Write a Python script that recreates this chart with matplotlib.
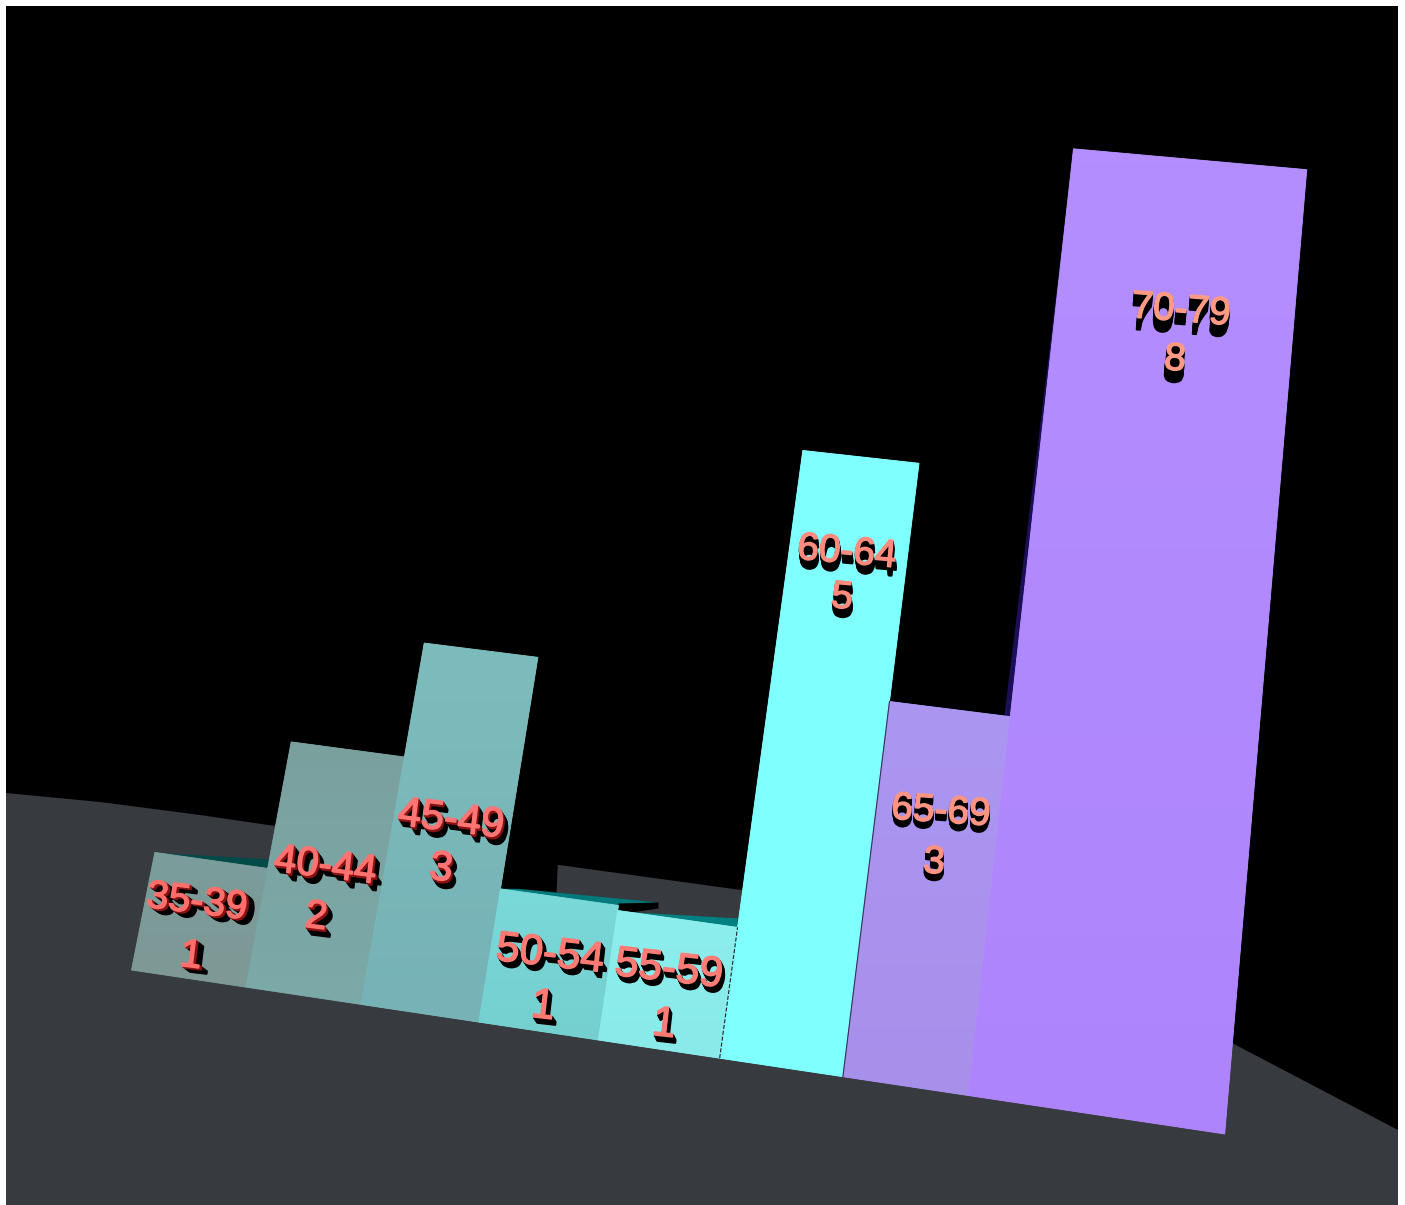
import numpy as np
import matplotlib.pyplot as plt
import matplotlib.patheffects as pe
from matplotlib.colors import LinearSegmentedColormap
from matplotlib.patches import Polygon, Rectangle
from matplotlib.transforms import Transform

age_edges = [35, 40, 45, 50, 55, 60, 65, 70, 80]
age_labels = ['35-39', '40-44', '45-49', '50-54', '55-59', '60-64', '65-69', '70-79']
counts = [1, 2, 3, 1, 1, 5, 3, 8]

bar_top_colors = ['#7a9d9b', '#7aa09e', '#7dbcbc', '#7ad9d9', '#8deeee', '#80ffff', '#ab96f2', '#b48eff']
bar_low_colors = ['#7f9896', '#7aaaa9', '#76b2b6', '#75cfcf', '#8aeaea', '#80ffff', '#a790ea', '#ae84fc']
text_colors = ['#ff6f6c', '#ff7270', '#ff7474', '#ff7a72', '#ff7c76', '#ff8a7e', '#ff9484', '#ff9a85']

# where the labels sit on the picture
range_xy = [(197, 902), (325, 866), (451, 820), (550, 955), (669, 970), (847, 553), (941, 812), (1181, 311)]
value_xy = [(191, 956), (316, 917), (441, 869), (543, 1007), (664, 1025), (842, 598), (934, 863), (1175, 360)]
font_sizes = [28.5, 29, 30, 30.5, 30.5, 28, 28, 28]
rotations = [-7, -7, -7, -6.5, -6.5, -5, -4, -4.5]
shadows = [(8, 6), (6, 8), (5, 8), (4, 6), (3, 6), (1, 9), (0, 7), (-1, 12)]

# top faces for the short bars: shift of back-left and back-right from the front corners
top_faces = {0: ((10, 1), (2, -9), '#004a4a'),
             3: ((18, 0), (40, -3), '#007a7a'),
             4: ((16, 2), (0, -9), '#008080')}

frame = [6, 6, 1392, 1199]
ground_edge = [(6, 793), (100, 802), (200, 815), (275, 826), (741, 890), (1232, 1043), (1398, 1130),
               (1398, 1205), (6, 1205)]

# (age, count) -> picture, fitted on points
plane_data = [(35, 0), (40, 0), (45, 0), (50, 0), (55, 0), (60, 0), (65, 0), (70, 0), (80, 0),
              (35, 1), (40, 2), (45, 3), (60, 5), (65, 5), (65, 3), (70, 3), (70, 8), (80, 8)]
plane_pix = [(133, 970), (247, 988), (362, 1006), (480, 1023), (598, 1040), (721, 1058), (842, 1077),
             (967, 1095), (1225, 1134), (155, 853), (290, 741), (423, 642), (800, 450), (918, 464),
             (888, 702), (1010, 716), (1074, 149), (1310, 168)]

# heights as drawn on the picture, a little off the printed counts
drawn_heights = [0.97, 2.03, 3, 1.07, 1.03, 5.03, 3, 7.97]


def solve_plane(src, dst):
    a = []
    b = []
    for (x, y), (u, v) in zip(src, dst):
        a.append([x, y, 1, 0, 0, 0, -u * x, -u * y])
        a.append([0, 0, 0, x, y, 1, -v * x, -v * y])
        b += [u, v]
    sol = np.linalg.lstsq(np.array(a, float), np.array(b, float), rcond=None)[0]
    return np.append(sol, 1).reshape(3, 3)


class PlaneTransform(Transform):
    input_dims = 2
    output_dims = 2

    def __init__(self, h):
        super().__init__()
        self.h = h

    def transform_non_affine(self, values):
        values = np.asarray(values, float)
        p = np.column_stack([values, np.ones(len(values))]) @ self.h.T
        return p[:, :2] / p[:, 2:]


plane = PlaneTransform(solve_plane(plane_data, plane_pix))

fig = plt.figure(figsize=(14.05, 12.05), dpi=100, facecolor='white')
ax = fig.add_axes([0, 0, 1, 1])
ax.axis('off')
plt.rcParams['font.family'] = ['Liberation Sans', 'DejaVu Sans']


def pix(age, value):
    return plane.transform_non_affine(np.array([[age, value]]))[0]


ax.add_patch(Rectangle(frame[:2], frame[2], frame[3], facecolor='black', edgecolor='none', zorder=0))
ax.add_patch(Polygon(ground_edge, closed=True, facecolor='#373a3f', edgecolor='none', zorder=1))

# black gap behind the 50-54 bar
tl = pix(age_edges[3], drawn_heights[3])
ax.add_patch(Polygon([tl + (-5, -50), tl + (58, -40), tl + (56, 4), tl + (-5, 4)], closed=True,
                     facecolor='black', edgecolor='none', zorder=1.5))

# dark side of the tallest bar
low = pix(age_edges[7], counts[6])
high = pix(age_edges[7], counts[7] * 0.93)
ax.add_patch(Polygon([high, low, low + (-6, 0)], closed=True, facecolor='#1c0e58', edgecolor='none', zorder=1.6))

for i, c in enumerate(drawn_heights):
    left = age_edges[i]
    right = age_edges[i + 1]
    z = 3 + i
    corners = np.array([pix(left, 0), pix(right, 0), pix(right, c), pix(left, c)])
    if i in top_faces:
        sl, sr, col = top_faces[i]
        ax.add_patch(Polygon([corners[3], corners[2], corners[2] + sr, corners[3] + sl], closed=True,
                             facecolor=col, edgecolor='none', zorder=z - 0.5))
    if i == 3:
        b = corners[2]
        ax.add_patch(Polygon([b + (0, -2), b + (40, -3), b + (40, 3), b + (0, 9)], closed=True,
                             facecolor='black', edgecolor='none', zorder=z - 0.4))
    # fill shaded top to bottom, clipped to the bar outline
    outline = Polygon(corners, closed=True, facecolor=bar_top_colors[i], edgecolor=bar_top_colors[i],
                      lw=0.6, zorder=z)
    ax.add_patch(outline)
    cmap = LinearSegmentedColormap.from_list('bar', [bar_top_colors[i], bar_low_colors[i]])
    im = ax.imshow(np.linspace(0, 1, 64).reshape(-1, 1), cmap=cmap, aspect='auto', zorder=z + 0.1,
                   extent=(corners[:, 0].min(), corners[:, 0].max(), corners[:, 1].max(), corners[:, 1].min()))
    im.set_clip_path(outline)

ax.set_xlim(0, 1405)
ax.set_ylim(1205, 0)

seam = np.array([pix(age_edges[5], 0), pix(age_edges[5], drawn_heights[4])])
ax.plot(seam[:, 0], seam[:, 1], '--', color='#222222', lw=0.8, zorder=8.5)
seam = np.array([pix(age_edges[6], 0), pix(age_edges[6], drawn_heights[6])])
ax.plot(seam[:, 0], seam[:, 1], '-', color='#333355', lw=0.8, zorder=10)

for i in range(len(counts)):
    for (x, y), s in ((range_xy[i], age_labels[i]), (value_xy[i], str(counts[i]))):
        dx, dy = shadows[i]
        for t in np.linspace(1, 0.15, 7):
            col = '#8a1212' if i < 3 and t < 0.35 else 'black'
            ax.text(x + dx * t, y + dy * t, s, color=col, fontsize=font_sizes[i], rotation=rotations[i],
                    ha='center', va='center', rotation_mode='anchor', zorder=20,
                    path_effects=[pe.withStroke(linewidth=1.2, foreground=col)])
        ax.text(x, y, s, color=text_colors[i], fontsize=font_sizes[i], rotation=rotations[i],
                ha='center', va='center', rotation_mode='anchor', zorder=21,
                path_effects=[pe.withStroke(linewidth=1.0, foreground=text_colors[i])])

fig.savefig('out.png', dpi=100, facecolor='white')
plt.close(fig)
